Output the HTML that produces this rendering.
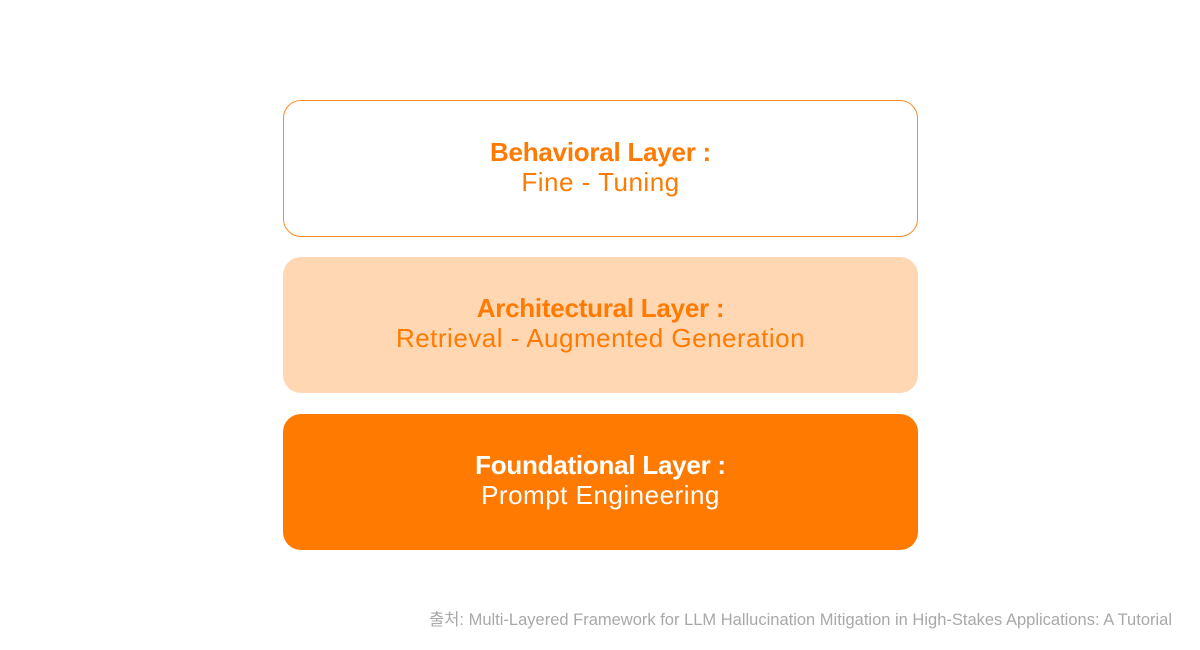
<!DOCTYPE html>
<html><head><meta charset="utf-8"><style>
html,body{margin:0;padding:0;background:#fff;}
body{width:1200px;height:650px;position:relative;overflow:hidden;font-family:"Liberation Sans","Noto Sans CJK KR",sans-serif;}
.box{position:absolute;left:283px;width:635px;border-radius:18px;box-sizing:border-box;display:flex;flex-direction:column;align-items:center;justify-content:center;font-size:26px;line-height:30px;padding-bottom:4px;}
.box b{font-weight:bold;letter-spacing:-0.25px;}
.box span{letter-spacing:0.5px;}
.b1{top:100px;height:137px;border:1px solid #ff8a2a;color:#ff7a00;background:#fff;}
.b2{top:257px;height:136px;background:#ffd8b3;color:#ff7a00;}
.b3{top:414px;height:136px;background:#ff7a00;color:#fff;}
.foot{position:absolute;right:28px;top:606px;font-size:16.5px;color:#a8a8a8;letter-spacing:0;white-space:nowrap;}
</style></head><body>
<div class="box b1"><b>Behavioral Layer :</b><span>Fine - Tuning</span></div>
<div class="box b2"><b>Architectural Layer :</b><span>Retrieval - Augmented Generation</span></div>
<div class="box b3"><b>Foundational Layer :</b><span>Prompt Engineering</span></div>
<div class="foot">출처: Multi-Layered Framework for LLM Hallucination Mitigation in High-Stakes Applications: A Tutorial</div>
</body></html>
